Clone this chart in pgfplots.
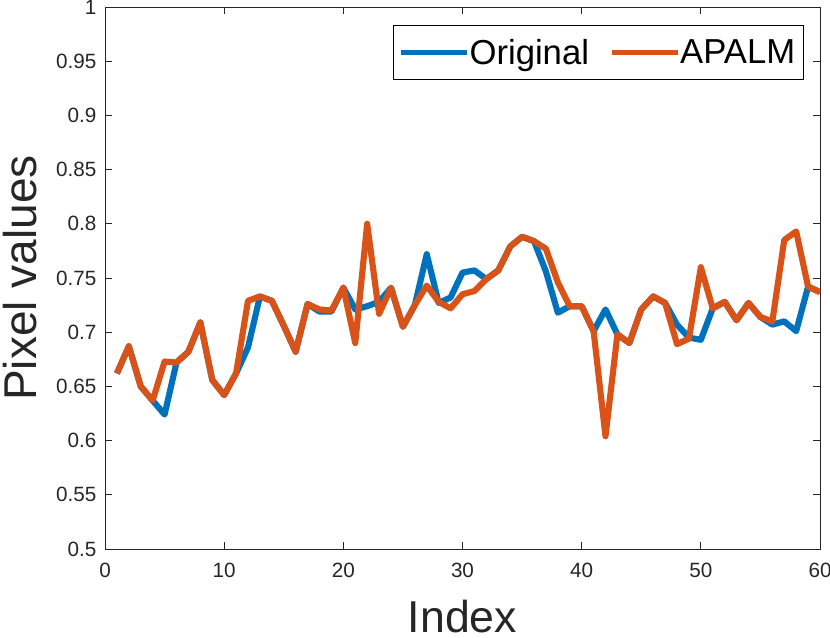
\documentclass[border=0pt]{standalone}
\usepackage{pgfplots}
\pgfplotsset{compat=1.18}
\usepackage{fontspec}
\setmainfont{Liberation Sans}
\definecolor{origblue}{rgb}{0,0.447,0.741}
\definecolor{apalmred}{rgb}{0.85,0.325,0.098}
\definecolor{axgray}{rgb}{0.15,0.15,0.15}

\pgfplotstableread{
idx orig apalm
1 0.662 0.662
2 0.687 0.687
3 0.650 0.650
4 0.637 0.637
5 0.624 0.673
6 0.672 0.672
7 0.682 0.682
8 0.709 0.709
9 0.656 0.656
10 0.642 0.642
11 0.662 0.662
12 0.686 0.729
13 0.733 0.733
14 0.729 0.729
15 0.706 0.706
16 0.682 0.682
17 0.726 0.726
18 0.719 0.721
19 0.719 0.720
20 0.741 0.741
21 0.721 0.690
22 0.724 0.800
23 0.728 0.717
24 0.741 0.741
25 0.705 0.705
26 0.725 0.725
27 0.772 0.743
28 0.727 0.728
29 0.732 0.722
30 0.755 0.735
31 0.757 0.738
32 0.749 0.749
33 0.757 0.757
34 0.779 0.779
35 0.788 0.788
36 0.784 0.784
37 0.756 0.777
38 0.718 0.746
39 0.724 0.724
40 0.724 0.724
41 0.701 0.701
42 0.721 0.604
43 0.698 0.698
44 0.690 0.690
45 0.721 0.721
46 0.733 0.733
47 0.727 0.727
48 0.707 0.689
49 0.695 0.694
50 0.693 0.760
51 0.722 0.722
52 0.728 0.728
53 0.711 0.711
54 0.727 0.727
55 0.714 0.714
56 0.707 0.710
57 0.710 0.785
58 0.701 0.793
59 0.742 0.742
60 0.737 0.737
}\pixeldata

\begin{document}
\begin{tikzpicture}
\path[use as bounding box] (-78.75pt,-66pt) rectangle (543.75pt,411.75pt);
\begin{axis}[
  at={(0pt,0pt)}, anchor=south west,
  scale only axis,
  width=536.25pt,
  height=406.5pt,
  xmin=0, xmax=60,
  ymin=0.5, ymax=1,
  xtick={0,10,...,60},
  ytick={0.5,0.55,...,1.0},
  yticklabels={0.5,0.55,0.6,0.65,0.7,0.75,0.8,0.85,0.9,0.95,1},
  tick align=inside,
  tick style={axgray,line width=0.6pt},
  major tick length=5.5pt,
  axis line style={axgray,line width=0.6pt},
  ticklabel style={font=\fontsize{15.5}{17}\selectfont,text=axgray},
  xticklabel style={yshift=-7pt},
  yticklabel style={xshift=-3pt},
  /pgf/number format/assume math mode=true,
  xlabel={Index},
  ylabel={Pixel values},
  label style={text=axgray},
  xlabel style={font=\fontsize{33.5}{36}\selectfont,at={(rel axis cs:0.5,0)},anchor=base,yshift=-62.5pt},
  ylabel style={font=\fontsize{34.5}{38}\selectfont,at={(rel axis cs:0,0.5)},rotate=0,anchor=base,yshift=51.5pt},
  legend columns=2,
  legend style={at={(rel axis cs:0.977,0.966)},anchor=north east,
    draw=black,line width=0.6pt,font=\fontsize{26}{28}\selectfont,
    inner xsep=4pt,inner ysep=8pt,
    /tikz/every even column/.style={column sep=13pt},
    /tikz/every odd column/.style={column sep=-2pt}},
  legend image code/.code={
    \draw[#1,line width=3.9pt] (0pt,0pt) -- (49.5pt,0pt);
  },
]
\addplot[origblue,line width=4.6pt,line join=round,no markers] table[x=idx,y=orig] {\pixeldata};
\addplot[apalmred,line width=4.6pt,line join=round,no markers] table[x=idx,y=apalm] {\pixeldata};
\legend{Original,APALM}
\end{axis}
\end{tikzpicture}
\end{document}
